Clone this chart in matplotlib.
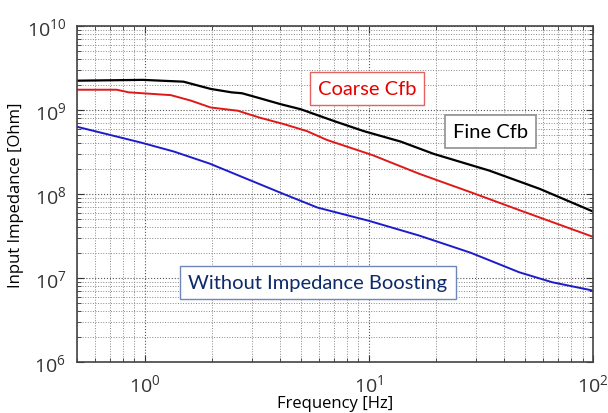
import numpy as np
import matplotlib
matplotlib.use("Agg")
import matplotlib.pyplot as plt

plt.rcParams['font.family'] = ['Open Sans', 'DejaVu Sans']

# values (Hz, Ohm)
fine_f = [0.5, 0.98, 1.49, 1.97, 2.44, 2.72, 3.26, 4.05, 4.97, 6.98, 9.5, 13.9, 19.5, 34.5, 58, 100]
fine_z = [2.23e9, 2.28e9, 2.17e9, 1.78e9, 1.62e9, 1.58e9, 1.38e9, 1.17e9, 1.02e9, 7.4e8, 5.6e8,
          4.2e8, 3.0e8, 1.9e8, 1.15e8, 6.2e7]

coarse_f = [0.5, 0.75, 0.85, 1.31, 1.61, 1.97, 2.6, 3.26, 4.17, 5.3, 6.5, 10.4, 16.8, 28.5, 48, 100]
coarse_z = [1.74e9, 1.74e9, 1.62e9, 1.5e9, 1.29e9, 1.07e9, 9.8e8, 8.1e8, 6.8e8, 5.6e8, 4.4e8,
            2.9e8, 1.74e8, 1.05e8, 6.3e7, 3.1e7]

plain_f = [0.5, 0.96, 1.35, 1.95, 2.97, 4.17, 5.9, 10, 16.8, 28.5, 47, 66, 100]
plain_z = [6.3e8, 4.1e8, 3.2e8, 2.3e8, 1.45e8, 1.0e8, 6.9e7, 4.8e7, 3.2e7, 2.0e7, 1.17e7,
           8.9e6, 7.1e6]

fig = plt.figure(figsize=(6.08, 4.14), dpi=100)
ax = fig.add_axes([0.127, 0.123, 0.848, 0.812])

ax.loglog(plain_f, plain_z, color='#1c1ccc', lw=1.4)
ax.loglog(coarse_f, coarse_z, color='#e01818', lw=1.4)
ax.loglog(fine_f, fine_z, color='black', lw=1.6)

ax.set_xlim(0.5, 100)
ax.set_ylim(1e6, 1e10)
ax.grid(True, which='major', ls=':', color='#555555', lw=0.8)
ax.grid(True, which='minor', ls=':', color='#888888', lw=0.7)
ax.tick_params(which='both', direction='in', top=True, right=True, colors='#333333')
ax.tick_params(which='major', labelsize=14, length=5, pad=8)
ax.tick_params(which='minor', length=3)
for s in ax.spines.values():
    s.set_color('#444444')
    s.set_linewidth(1.2)

ax.set_xlabel('Frequency [Hz]', fontsize=12, labelpad=0)
ax.set_ylabel('Input Impedance [Ohm]', fontsize=12, labelpad=2)

label_font = ['Lato', 'DejaVu Sans']
ax.text(0.562, 0.8125, 'Coarse Cfb', transform=ax.transAxes, ha='center', va='center',
        fontsize=14.5, color='#e80000', family=label_font,
        bbox=dict(boxstyle='square,pad=0.4', fc='white', ec='#e86060', lw=1))
ax.text(0.802, 0.685, 'Fine Cfb', transform=ax.transAxes, ha='center', va='center',
        fontsize=14.5, color='black', family=label_font,
        bbox=dict(boxstyle='square,pad=0.4', fc='white', ec='#909090', lw=1.2))
ax.text(0.467, 0.238, 'Without Impedance Boosting', transform=ax.transAxes, ha='center',
        va='center', fontsize=14.5, color='#0d2a6b', family=label_font,
        bbox=dict(boxstyle='square,pad=0.4', fc='white', ec='#6f86b8', lw=1))

fig.savefig('out.png', dpi=100)
